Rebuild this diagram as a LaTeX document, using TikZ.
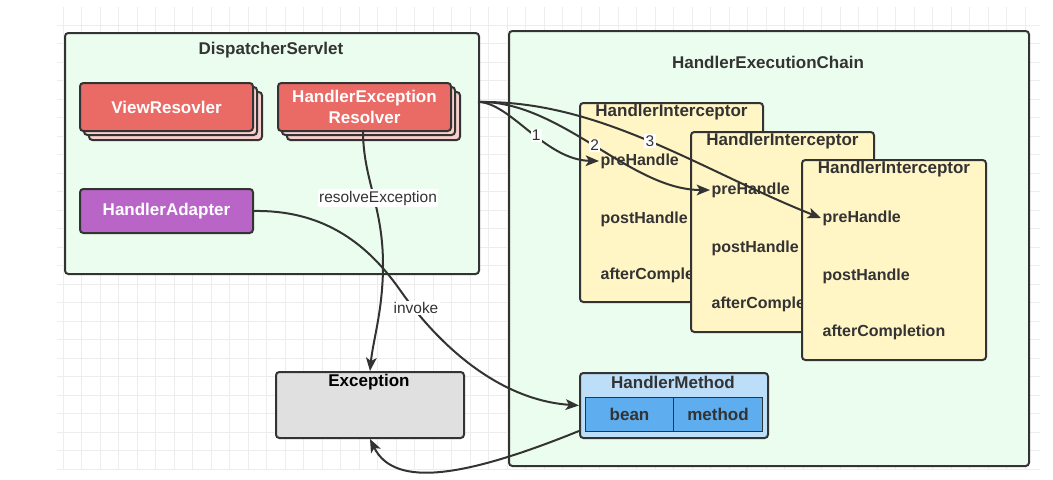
\documentclass[tikz,border=0pt]{standalone}
\usepackage{fontspec}
\setmainfont{Liberation Sans}
\usetikzlibrary{arrows.meta,calc}
\definecolor{ink}{HTML}{333333}
\definecolor{gridc}{HTML}{EDEDED}
\definecolor{contfill}{HTML}{EBFDEE}
\definecolor{redfill}{HTML}{EA6B66}
\definecolor{redback}{HTML}{F8CECC}
\definecolor{purp}{HTML}{B865C7}
\definecolor{yel}{HTML}{FFF5C5}
\definecolor{bluel}{HTML}{BDDEF9}
\definecolor{blued}{HTML}{5DADEF}
\definecolor{excfill}{HTML}{E0E0E0}
\begin{document}
\begin{tikzpicture}[x=0.75pt,y=-0.75pt,
  sz/.style 2 args={minimum width=#1*0.75pt, minimum height=#2*0.75pt},
  box/.style={draw=ink, line width=1.5pt, rounded corners=2.5pt, inner sep=0pt, anchor=north west},
  stackback/.style={draw=ink, line width=1.5pt, rounded corners=2.5pt, fill=redback},
  bft/.style={font=\fontsize{12.75}{15.75}\selectfont\bfseries, text=ink},
  itm/.style={font=\fontsize{12}{14}\selectfont\bfseries, text=ink, inner sep=1pt, anchor=west},
  cell/.style={draw=ink, line width=0.8pt, fill=blued, anchor=north west, inner sep=0pt, bft},
  edge/.style={draw=ink, line width=1.5pt, -{Stealth[length=10pt,width=8pt,inset=2.5pt]}},
  elabel/.style={fill=white, inner sep=1pt, text=ink, font=\fontsize{11.6}{13}\selectfont}]
\fill[white] (0,0) rectangle (1053,479);
\useasboundingbox (0,0) rectangle (1053,479);
% grid
\begin{scope}
\clip (57,7) rectangle (1040,470);
\foreach \i in {0,...,53} \draw[gridc, line width=0.75pt] ({44.5+18.5*\i},7) -- ({44.5+18.5*\i},470);
\foreach \j in {0,...,25} \draw[gridc, line width=0.75pt] (57,{6.5+18.5*\j}) -- (1040,{6.5+18.5*\j});
\end{scope}
% containers
\node[box, fill=contfill, sz={414}{241}] (ds) at (64,32) {};
\node[bft] (dstitle) at (271,50) {DispatcherServlet};
\node[box, fill=contfill, sz={520}{435}] (hec) at (508,30) {};
\node[bft] (hectitle) at (768,62) {HandlerExecutionChain};
% stacked resolvers
\draw[stackback] (89,92) rectangle ++(173,48);
\draw[stackback] (84,87) rectangle ++(173,48);
\node[box, bft, fill=redfill, text=white, sz={173}{48}] (vr) at (79,82) {ViewResovler};
\draw[stackback] (287,92) rectangle ++(173,48);
\draw[stackback] (282,87) rectangle ++(173,48);
\node[box, bft, fill=redfill, text=white, sz={173}{48}, align=center] (her) at (277,82) {HandlerException\\Resolver};
\node[box, bft, fill=purp, text=white, sz={173}{44}] (ha) at (79,188) {HandlerAdapter};
% interceptors
\node[box, fill=yel, sz={183}{199}] (ib1) at (579,102) {};
\node[bft] (it1) at ($(ib1.north)+(0,10)$) {HandlerInterceptor};
\node[itm] (pre1) at ($(ib1.north west)+(20,59)$) {preHandle};
\node[itm] (post1) at ($(ib1.north west)+(20,117)$) {postHandle};
\node[itm] (after1) at ($(ib1.north west)+(20,173)$) {afterCompletion};
\node[box, fill=yel, sz={183}{200}] (ib2) at (690,131) {};
\node[bft] (it2) at ($(ib2.north)+(0,10)$) {HandlerInterceptor};
\node[itm] (pre2) at ($(ib2.north west)+(20,59)$) {preHandle};
\node[itm] (post2) at ($(ib2.north west)+(20,117)$) {postHandle};
\node[itm] (after2) at ($(ib2.north west)+(20,173)$) {afterCompletion};
\node[box, fill=yel, sz={184}{200}] (ib3) at (801,159) {};
\node[bft] (it3) at ($(ib3.north)+(0,10)$) {HandlerInterceptor};
\node[itm] (pre3) at ($(ib3.north west)+(20,59)$) {preHandle};
\node[itm] (post3) at ($(ib3.north west)+(20,117)$) {postHandle};
\node[itm] (after3) at ($(ib3.north west)+(20,173)$) {afterCompletion};
% handler method
\node[box, fill=bluel, sz={188}{65}] (hm) at (579,372) {};
\node[bft] (hmt) at (673,382) {HandlerMethod};
\node[cell, sz={88}{34}] (bean) at (585,397) {bean};
\node[cell, sz={89}{34}] (meth) at (673,397) {method};
% exception
\node[box, fill=excfill, sz={188}{66}] (exc) at (275,371) {};
\node[bft, text=black] (exct) at (369,382) {Exception};
% edges
\coordinate (dsout) at (478,102);
\draw[edge] (dsout) .. controls (510,102) and (545,160) .. (pre1.west) node[elabel, pos=.55] {1};
\draw[edge] (dsout) .. controls (560,100) and (630,190) .. (pre2.west) node[elabel, pos=.5] {2};
\draw[edge] (dsout) .. controls (600,100) and (700,170) .. (pre3.west) node[elabel, pos=.5] {3};
\draw[edge] (363,130) .. controls (363,180) and (383,205) .. (383,265) .. controls (383,310) and (373,340) .. (exc.north);
\node[elabel] (rlab) at (378,198) {resolveException};
\draw[edge] (ha.east) .. controls (320,210) and (365,240) .. (400,290) .. controls (440,347) and (500,400) .. (hm.west);
\node[elabel] (ilab) at (416,308) {invoke};
\draw[edge] ($(hm.south west)+(0,-8)$) .. controls (470,475) and (395,490) .. (exc.south);
\end{tikzpicture}
\end{document}
